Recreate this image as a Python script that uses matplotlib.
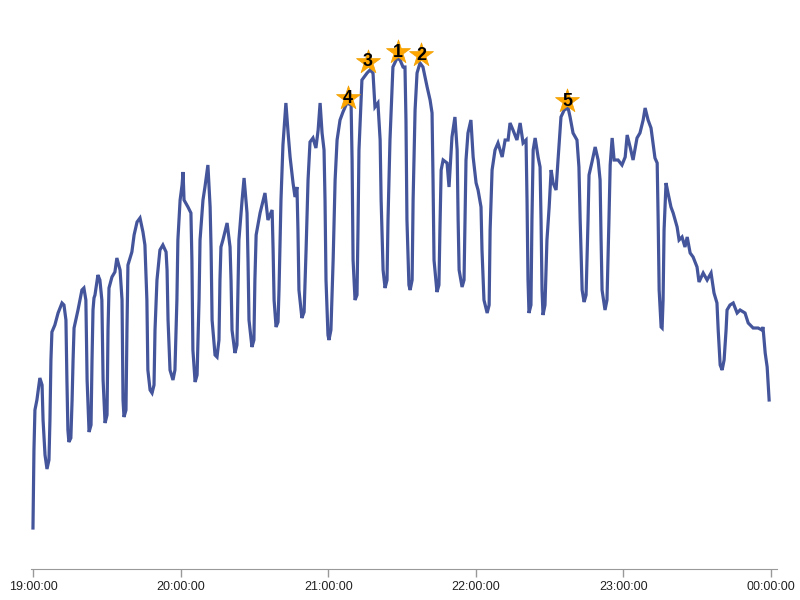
import matplotlib.pyplot as plt

# minutes after 19:00 and load (arbitrary units)
minutes = [0.0, 0.4, 0.8, 1.6, 2.4, 2.8, 3.7, 4.1, 4.9, 5.7, 6.5, 6.9, 7.3, 7.7, 8.9, 10.2, 11.8, 12.6,
           13.4, 13.8, 14.2, 14.6, 15.4, 15.9, 16.3, 16.7, 18.3, 19.9, 20.7, 21.5, 22.0, 22.8, 23.6, 24.0,
           24.4, 24.8, 25.2, 26.4, 27.2, 28.0, 28.5, 29.3, 30.1, 30.5, 30.9, 32.1, 33.3, 34.1, 35.4, 36.2,
           36.6, 37.0, 37.8, 38.2, 38.6, 40.2, 41.1, 42.3, 43.5, 44.7, 45.5, 46.3, 46.7, 47.6, 48.4, 49.2,
           49.6, 50.4, 51.6, 52.8, 54.1, 54.5, 54.9, 55.7, 56.9, 57.7, 58.5, 58.9, 59.8, 60.6, 61.0, 61.4,
           63.0, 64.2, 64.6, 65.0, 65.9, 66.7, 67.5, 67.9, 69.1, 69.9, 71.1, 72.0, 72.4, 72.8, 74.0, 74.8,
           75.6, 76.0, 76.4, 77.2, 78.9, 80.1, 80.5, 80.9, 82.1, 82.9, 83.3, 83.7, 85.0, 85.8, 87.0, 87.4,
           87.8, 89.0, 89.8, 90.2, 90.7, 92.3, 94.3, 95.5, 97.2, 97.6, 98.0, 98.8, 99.6, 100.0, 100.8, 101.6,
           102.8, 103.7, 104.5, 105.7, 106.5, 107.3, 107.7, 108.1, 109.3, 110.2, 111.0, 111.8, 112.6, 113.8,
           115.0, 115.9, 116.7, 117.5, 118.3, 118.7, 119.1, 119.9, 120.3, 121.1, 122.0, 122.8, 123.6, 124.8,
           126.0, 127.6, 129.3, 129.7, 130.1, 130.9, 131.7, 132.1, 132.5, 133.7, 135.8, 137.0, 138.2, 139.0,
           140.2, 141.1, 141.5, 142.3, 143.1, 143.9, 144.3, 145.1, 146.3, 148.0, 149.2, 150.4, 151.2, 151.6,
           152.0, 152.8, 153.3, 154.1, 154.5, 155.3, 156.1, 157.3, 158.5, 160.2, 161.4, 162.2, 162.6, 163.0,
           164.2, 165.0, 165.4, 165.9, 166.7, 168.3, 169.1, 170.3, 171.5, 172.4, 172.8, 173.2, 174.4, 175.2,
           175.6, 176.0, 176.8, 178.0, 178.9, 180.1, 180.9, 182.1, 182.5, 183.3, 184.6, 185.4, 185.8, 186.6,
           187.8, 189.0, 190.7, 191.9, 193.1, 193.9, 195.1, 196.7, 198.0, 199.2, 200.4, 200.8, 201.2, 201.6,
           202.4, 202.8, 203.3, 204.1, 205.3, 206.1, 206.5, 206.9, 207.3, 208.1, 208.9, 209.8, 210.6, 211.4,
           212.6, 213.4, 214.6, 215.9, 217.5, 218.3, 219.5, 221.1, 221.9, 222.4, 223.2, 224.0, 224.8, 225.6,
           226.0, 227.2, 228.5, 229.7, 230.5, 230.9, 231.3, 232.5, 233.3, 234.1, 234.6, 235.4, 236.2, 237.8,
           239.4, 240.7, 241.5, 242.7, 243.9, 245.5, 246.7, 248.0, 248.8, 250.0, 251.2, 252.0, 252.8, 253.7,
           254.1, 254.5, 255.3, 255.7, 256.1, 256.5, 257.3, 258.1, 259.3, 260.2, 261.8, 262.6, 263.8, 265.0,
           265.9, 267.1, 268.3, 269.9, 270.7, 272.4, 274.0, 275.6, 276.8, 278.0, 278.5, 279.3, 280.1, 280.9,
           281.7, 282.1, 283.3, 284.6, 286.2, 287.4, 289.4, 290.7, 292.7, 294.7, 296.3, 296.7, 297.6, 298.4,
           299.2]

load = [41, 119, 159, 169, 184, 191, 184, 149, 114, 100, 109, 149, 209, 237, 244, 256, 266, 264,
        249, 189, 139, 127, 131, 169, 209, 241, 259, 279, 281, 269, 189, 137, 144, 209,
        259, 271, 274, 294, 289, 269, 189, 146, 154, 239, 281, 292, 297, 311, 299, 269,
        169, 152, 159, 239, 304, 317, 334, 347, 351, 337, 324, 269, 199, 179, 176, 184,
        239, 289, 319, 324, 317, 299, 249, 199, 189, 199, 269, 329, 369, 384, 397, 369,
        362, 356, 309, 219, 187, 194, 269, 329, 369, 382, 404, 362, 319, 249, 214, 212,
        229, 289, 322, 329, 346, 322, 289, 239, 216, 224, 279, 329, 369, 391, 356, 309,
        249, 222, 229, 289, 334, 356, 376, 349, 359, 319, 269, 242, 247, 279, 369, 424,
        466, 436, 412, 386, 372, 382, 339, 279, 251, 257, 319, 389, 427, 431,
        421, 439, 466, 436, 419, 369, 289, 234, 229, 239, 309, 389, 429, 449,
        457, 466, 464, 409, 309, 269, 274, 339, 419, 489, 496, 499, 496, 462,
        466, 429, 369, 299, 281, 289, 349, 429, 502, 511, 509, 502, 502, 449,
        349, 284, 279, 289, 369, 459, 496, 506, 502, 482, 469, 456, 389, 309,
        277, 284, 339, 399, 409, 406, 382, 432, 452, 419, 349, 299, 282, 289,
        349, 409, 436, 449, 412, 386, 379, 362, 319, 269, 256, 264, 339, 399,
        419, 426, 412, 429, 429, 446, 439, 429, 446, 426, 429, 369, 289, 256,
        264, 349, 419, 431, 412, 402, 349, 279, 254, 264, 329, 362, 399, 386,
        379, 409, 452, 459, 461, 452, 436, 429, 402, 349, 279, 267, 274, 349,
        394, 407, 422, 409, 389, 329, 279, 259, 269, 349, 404, 431, 409, 409,
        404, 412, 434, 422, 409, 431, 436, 449, 461, 449, 441, 426, 411, 406,
        349, 279, 242, 241, 269, 339, 386, 376, 362, 356, 342, 329, 332, 322,
        332, 316, 312, 302, 287, 296, 289, 296, 276, 266, 239, 204, 199, 209,
        239, 259, 264, 266, 256, 259, 256, 246, 241, 241, 239, 242, 216, 202,
        169]

# ranked peaks marked with stars
peak_minutes = [148.4, 157.7, 136.2, 128.0, 217.1]
peak_load = [517, 514, 507, 471, 468]
peak_rank = ['1', '2', '3', '4', '5']

tick_minutes = [0, 60, 120, 180, 240, 300]
tick_labels = ['19:00:00', '20:00:00', '21:00:00', '22:00:00', '23:00:00', '00:00:00']

fig = plt.figure(figsize=(8, 6), dpi=100)
ax = fig.add_axes([31 / 800, 31 / 600, 746 / 800, 569 / 600])

ax.plot(minutes, load, color='#44559b', linewidth=2.3, solid_joinstyle='miter')

ax.scatter(peak_minutes, peak_load, marker='*', s=330, color='#ffa500',
           edgecolors='#f0a000', linewidths=0.5, zorder=3)
for m, v, r in zip(peak_minutes, peak_load, peak_rank):
    ax.text(m, v, r, ha='center', va='center', fontsize=13, fontweight='bold',
            family='Liberation Sans', color='black', zorder=4)

ax.set_xlim(-0.8, 302.4)
ax.set_ylim(0, 569)
ax.set_xticks(tick_minutes)
ax.set_xticklabels(tick_labels, family='Liberation Sans', fontsize=9, color='#222222')
ax.set_yticks([])
for side in ['top', 'right', 'left']:
    ax.spines[side].set_visible(False)
ax.spines['bottom'].set_color('#999999')
ax.tick_params(axis='x', colors='#999999', length=6, width=1, labelcolor='#222222', pad=3)

fig.savefig('out.png', dpi=100)
